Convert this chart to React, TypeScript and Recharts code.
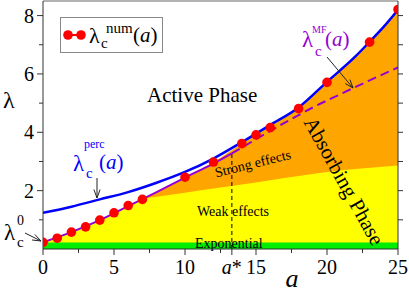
import React from "react"
import { ComposedChart, Line, Area, XAxis, YAxis, ReferenceLine } from "recharts"

const SERIF = "Liberation Serif, Times New Roman, DejaVu Serif, serif"
const serif = { fontFamily: SERIF }

// a* marks where the mean-field curve stops being exact
const A_STAR = 13.3
const A_STAR_TOP = 3.34

// numerical critical points (red dots)
const numA = [0, 1, 2, 3, 4, 5, 6, 7, 10, 12, 14, 15, 16, 18, 20, 23, 25]
const numLambda = [0.23, 0.37, 0.58, 0.76, 0.99, 1.24, 1.49, 1.7, 2.46, 2.98, 3.61, 3.91, 4.16, 4.81, 5.71, 7.09, 8.21]

// percolation estimate (blue)
const percA = [0, 2, 4, 6, 8, 10, 12, 14, 16, 18, 20, 22, 23, 24, 25]
const percLambda = [1.24, 1.45, 1.7, 1.95, 2.27, 2.64, 3.1, 3.66, 4.25, 4.85, 5.73, 6.6, 7.1, 7.62, 8.2]

// mean field (purple), exact part and dashed extension
const mfA = [0, 2, 4, 6, 8, 10, 12, 13.3]
const mfLambda = [0.23, 0.58, 0.99, 1.47, 1.95, 2.45, 2.93, 3.28]
const mfExtA = [13.3, 15, 17, 19, 21, 23, 25]
const mfExtLambda = [3.28, 3.76, 4.32, 4.85, 5.32, 5.78, 6.22]

// region boundaries
const edgeA = [0, 2, 4, 6, 7, 10, 12, 14, 16, 18, 20, 22, 23, 24, 25]
const edgeLambda = [0.23, 0.58, 0.99, 1.49, 1.7, 2.46, 2.98, 3.62, 4.22, 4.83, 5.72, 6.6, 7.1, 7.62, 8.2]
const weakA = [0, 2, 4, 6, 7, 8, 10, 12, 14, 16, 18, 20, 22, 25]
const weakLambda = [0.23, 0.58, 0.99, 1.49, 1.7, 1.79, 1.93, 2.07, 2.21, 2.36, 2.5, 2.64, 2.74, 2.86]
const expA = [0, 25]
const expLambda = [0.22, 0.22]

const xTicks = [0, 2.5, 5, 7.5, 10, 12.5, A_STAR, 15, 17.5, 20, 22.5, 25]
const yTicks = [1, 2, 3, 4, 5, 6, 7, 8]

const series: [string, number[], number[]][] = [
  ["num", numA, numLambda],
  ["perc", percA, percLambda],
  ["mf", mfA, mfLambda],
  ["mfExt", mfExtA, mfExtLambda],
  ["edge", edgeA, edgeLambda],
  ["weak", weakA, weakLambda],
  ["exp", expA, expLambda],
]

function buildTable() {
  const keys = new Set<number>()
  series.forEach(([, xs]) => xs.forEach((x) => keys.add(x)))
  return Array.from(keys)
    .sort((p, q) => p - q)
    .map((a) => {
      const row: any = { a }
      series.forEach(([name, xs, ys]) => {
        const i = xs.indexOf(a)
        row[name] = i >= 0 ? ys[i] : null
      })
      return row
    })
}

const data = buildTable()

function BottomTick({ x, y, payload }: any) {
  const v = payload.value
  const major = v % 5 === 0 || v === A_STAR
  return (
    <g>
      <line x1={x} x2={x} y1={y} y2={y + (major ? 6 : 4)} stroke="#333" />
      {v === A_STAR ? (
        <text x={x} y={y + 25} textAnchor="middle" fontSize={20} style={serif} fill="#000">
          <tspan fontStyle="italic">a</tspan>*
        </text>
      ) : major ? (
        <text x={x} y={y + 25} textAnchor="middle" fontSize={20} style={serif} fill="#000">
          {v}
        </text>
      ) : null}
    </g>
  )
}

function LeftTick({ x, y, payload }: any) {
  const v = payload.value
  const major = v % 2 === 0
  return (
    <g>
      <line x1={x - (major ? 6 : 4)} x2={x} y1={y} y2={y} stroke="#333" />
      {major && (
        <text x={x - 9} y={y + 7} textAnchor="end" fontSize={20} style={serif} fill="#000">
          {v}
        </text>
      )}
    </g>
  )
}

function RightTick({ x, y }: any) {
  return <line x1={x} x2={x + 5} y1={y} y2={y} stroke="#333" />
}

function NumDot({ cx, cy, value, index }: any) {
  if (value == null || cy == null) return <g key={index} />
  return <circle key={index} cx={cx} cy={cy} r={4.8} fill="#ff0000" />
}

function Arrow({ x1, y1, x2, y2 }: any) {
  const ang = Math.atan2(y2 - y1, x2 - x1)
  const len = 9
  const spread = 0.35
  const hx1 = x2 - len * Math.cos(ang - spread)
  const hy1 = y2 - len * Math.sin(ang - spread)
  const hx2 = x2 - len * Math.cos(ang + spread)
  const hy2 = y2 - len * Math.sin(ang + spread)
  return (
    <g stroke="#222" strokeWidth={1} fill="none">
      <line x1={x1} y1={y1} x2={x2} y2={y2} />
      <polyline points={`${hx1},${hy1} ${x2},${y2} ${hx2},${hy2}`} />
    </g>
  )
}

function Annotations() {
  return (
    <svg
      width={409}
      height={292}
      style={{ position: "absolute", left: 0, top: 0, pointerEvents: "none", fontFamily: SERIF }}
    >
      {/* legend */}
      <rect x={60.5} y={17.5} width={102} height={35} fill="#fff" stroke="#888" />
      <line x1={68} x2={81} y1={35} y2={35} stroke="#ff0000" strokeWidth={2} />
      <circle cx={68} cy={35} r={4.8} fill="#ff0000" />
      <circle cx={81} cy={35} r={4.8} fill="#ff0000" />
      <text x={89} y={43} fontSize={22}>λ</text>
      <text x={101} y={48} fontSize={15}>c</text>
      <text x={106} y={33} fontSize={15}>num</text>
      <text x={133} y={42} fontSize={21}>
        (<tspan fontStyle="italic">a</tspan>)
      </text>

      <text x={147} y={102} fontSize={21}>Active Phase</text>

      <text
        x={344}
        y={181}
        fontSize={21}
        textAnchor="middle"
        dominantBaseline="central"
        transform="rotate(61 344 181)"
      >
        Absorbing Phase
      </text>

      <text x={254} y={168} fontSize={14} textAnchor="middle" transform="rotate(-14 254 168)">
        Strong effects
      </text>
      <text x={197} y={216} fontSize={14}>Weak effects</text>
      <text x={195} y={248} fontSize={14}>Exponential</text>

      {/* percolation label */}
      <g fill="#0000ff">
        <text x={73} y={171} fontSize={23}>λ</text>
        <text x={86} y={178} fontSize={15}>c</text>
        <text x={84} y={148} fontSize={12}>perc</text>
        <text x={99} y={169} fontSize={21}>
          (<tspan fontStyle="italic">a</tspan>)
        </text>
      </g>
      <Arrow x1={97} y1={178} x2={97} y2={198} />

      {/* mean field label */}
      <g fill="#9400d3">
        <text x={302} y={47} fontSize={23}>λ</text>
        <text x={315} y={56} fontSize={15}>c</text>
        <text x={312} y={33} fontSize={10}>MF</text>
        <text x={325} y={46} fontSize={21}>
          (<tspan fontStyle="italic">a</tspan>)
        </text>
      </g>
      <Arrow x1={327} y1={57} x2={353} y2={88} />

      {/* lambda_c^0 */}
      <text x={4} y={240} fontSize={23}>λ</text>
      <text x={17} y={247} fontSize={15}>c</text>
      <text x={17} y={225} fontSize={14}>0</text>
      <Arrow x1={25} y1={233} x2={41} y2={241} />

      {/* axis titles */}
      <text x={3} y={108} fontSize={24}>λ</text>
      <text x={292} y={287} fontSize={26} fontStyle="italic" textAnchor="middle">a</text>
    </svg>
  )
}

export default function App() {
  return (
    <div style={{ position: "absolute", left: 0, top: 0, width: 409, height: 292, background: "#fff" }}>
      <ComposedChart
        width={409}
        height={292}
        data={data}
        margin={{ top: 1, right: 0, bottom: 0, left: 0 }}
      >
        <XAxis
          dataKey="a"
          type="number"
          domain={[0, 25]}
          ticks={xTicks}
          interval={0}
          height={43}
          tickSize={0}
          tickMargin={0}
          tickLine={false}
          tick={<BottomTick />}
          axisLine={{ stroke: "#333" }}
          allowDataOverflow
        />
        <YAxis
          yAxisId="l"
          type="number"
          domain={[0, 8.5]}
          ticks={yTicks}
          interval={0}
          width={43}
          tickSize={0}
          tickMargin={0}
          tickLine={false}
          tick={<LeftTick />}
          axisLine={{ stroke: "#333" }}
          allowDataOverflow
        />
        <YAxis
          yAxisId="r"
          orientation="right"
          type="number"
          domain={[0, 8.5]}
          ticks={yTicks}
          interval={0}
          width={11}
          tickSize={0}
          tickMargin={0}
          tickLine={false}
          tick={<RightTick />}
          axisLine={{ stroke: "#333" }}
          allowDataOverflow
        />
        <Area yAxisId="l" dataKey="edge" type="monotone" connectNulls fill="#ffa500" fillOpacity={1} stroke="none" isAnimationActive={false} />
        <Area yAxisId="l" dataKey="weak" type="monotone" connectNulls fill="#ffff00" fillOpacity={1} stroke="none" isAnimationActive={false} />
        <Area yAxisId="l" dataKey="exp" type="linear" connectNulls fill="#00ee00" fillOpacity={1} stroke="none" isAnimationActive={false} />
        <ReferenceLine yAxisId="l" y={8.5} stroke="#999" strokeWidth={1.5} />
        <ReferenceLine
          yAxisId="l"
          segment={[{ x: A_STAR, y: 0 }, { x: A_STAR, y: A_STAR_TOP }]}
          stroke="#000"
          strokeDasharray="4 3"
        />
        <Line yAxisId="l" dataKey="mf" type="monotone" connectNulls stroke="#9400d3" strokeWidth={2} dot={false} isAnimationActive={false} />
        <Line yAxisId="l" dataKey="mfExt" type="monotone" connectNulls stroke="#9400d3" strokeWidth={2} strokeDasharray="9 5" dot={false} isAnimationActive={false} />
        <Line yAxisId="l" dataKey="perc" type="monotone" connectNulls stroke="#0000ff" strokeWidth={2.5} dot={false} isAnimationActive={false} />
        <Line yAxisId="l" dataKey="num" connectNulls stroke="none" dot={<NumDot />} activeDot={false} isAnimationActive={false} />
      </ComposedChart>
      <Annotations />
    </div>
  )
}
